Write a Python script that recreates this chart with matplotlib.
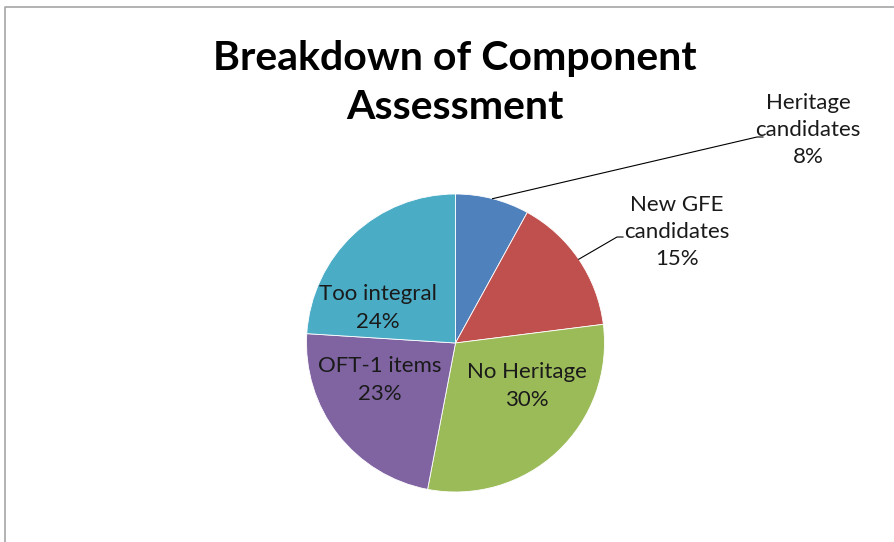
import numpy as np
import matplotlib.pyplot as plt

categories = ['Heritage\ncandidates', 'New GFE\ncandidates', 'No Heritage', 'OFT-1 items', 'Too integral']
shares = [8, 15, 30, 23, 24]
colors = ['#4F81BD', '#C0504D', '#9BBB59', '#8064A2', '#4BACC6']

W, H = 894, 542
fig = plt.figure(figsize=(W / 100, H / 100), dpi=100)
ax = fig.add_axes([0, 0, 1, 1])

font = ['Lato', 'DejaVu Sans']

cx, cy, r = 455.5, H - 343, 149
wedges, _ = ax.pie(shares, colors=colors, startangle=90, counterclock=False,
                   center=(cx, cy), radius=r, frame=True,
                   wedgeprops=dict(linewidth=0.6, edgecolor='white'))
ax.set_xlim(0, W)
ax.set_ylim(0, H)
ax.set_aspect('equal')
ax.axis('off')

# frame (top and left edges visible)
ax.plot([5, 5, W], [0, H - 7, H - 7], color='#a6a6a6', lw=1.2)

fig.text(455 / W, 1 - 83 / H, 'Breakdown of Component\nAssessment', ha='center', va='center',
         fontsize=29.5, fontweight='bold', family=font, linespacing=1.42)

# labels inside the pie
inside = {2: (527, 386), 3: (380, 380), 4: (378, 308)}
for i, (x, y) in inside.items():
    ax.text(x, H - y, f'{categories[i]}\n{shares[i]}%', ha='center', va='center',
            fontsize=16, family=font, color='#1a1a1a', linespacing=1.45)

# outside labels with leader lines
outside = {0: ((808, 130), (757, 137)), 1: ((677, 232), (617, 237))}
for i, ((tx, ty), (lx, ly)) in outside.items():
    w = wedges[i]
    ang = np.deg2rad((w.theta1 + w.theta2) / 2)
    px, py = cx + r * np.cos(ang), cy + r * np.sin(ang)
    ax.plot([px, lx, lx + 6], [py, H - ly, H - ly], color='black', lw=0.8)
    ax.text(tx, H - ty, f'{categories[i]}\n{shares[i]}%', ha='center', va='center',
            fontsize=16, family=font, color='#1a1a1a', linespacing=1.45)

fig.savefig('out.png', dpi=100, facecolor='white')
